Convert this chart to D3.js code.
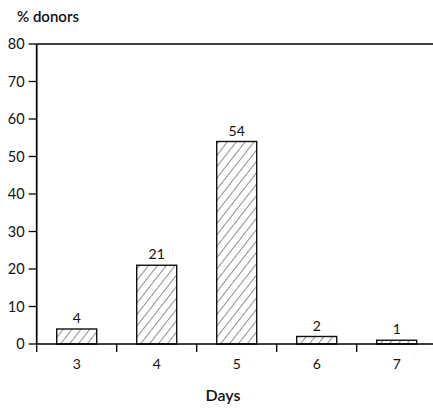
<!DOCTYPE html>
<html><head><meta charset="utf-8">
<script src="https://cdn.jsdelivr.net/npm/d3@7/dist/d3.min.js"></script>
<style>body{margin:0;background:#fff}svg{display:block}text{font-family:Lato,"Open Sans",sans-serif;fill:#111}</style>
</head><body>
<script>
const categories = ["3","4","5","6","7"];
const values = [4, 21, 54, 2, 1];
const yTicks = [0,10,20,30,40,50,60,70,80];

const W = 433, H = 409;
const svg = d3.select("body").append("svg").attr("width", W).attr("height", H);
const x0 = 36.7, bandW = 80;
const x = d3.scaleBand().domain(categories).range([x0, x0 + bandW*categories.length]).paddingInner(0.5).paddingOuter(0.25);
const y = d3.scaleLinear().domain([0, 80]).range([344, 44]);

const defs = svg.append("defs");
const pat = defs.append("pattern").attr("id","hatch").attr("patternUnits","userSpaceOnUse")
  .attr("width",7).attr("height",7).attr("patternTransform","rotate(38)");
pat.append("rect").attr("width",7).attr("height",7).attr("fill","#fff");
pat.append("line").attr("x1",0).attr("y1",0).attr("x2",0).attr("y2",7).attr("stroke","#222").attr("stroke-width",1);

// bars
svg.selectAll(".bar").data(values).join("rect")
  .attr("x",(d,i)=>x(categories[i])).attr("width",x.bandwidth())
  .attr("y",d=>y(d)).attr("height",d=>y(0)-y(d))
  .attr("fill","url(#hatch)").attr("stroke","#111").attr("stroke-width",1.4);

svg.selectAll(".vl").data(values).join("text")
  .attr("x",(d,i)=>x(categories[i])+x.bandwidth()/2).attr("y",d=>y(d)-6)
  .attr("text-anchor","middle").attr("font-size",14).text(d=>d);

// y axis
svg.append("line").attr("x1",x0).attr("x2",x0).attr("y1",y(80)).attr("y2",y(0)).attr("stroke","#000").attr("stroke-width",1.7);
svg.append("line").attr("x1",x0).attr("x2",W).attr("y1",y(80)).attr("y2",y(80)).attr("stroke","#000").attr("stroke-width",1.7);
const yt = svg.selectAll(".yt").data(yTicks).join("g").attr("transform",d=>`translate(0,${y(d)})`);
yt.append("line").attr("x1",x0-8).attr("x2",x0).attr("stroke","#000").attr("stroke-width",1.3);
yt.append("text").attr("x",x0-12).attr("dy","0.35em").attr("text-anchor","end").attr("font-size",14.5).text(d=>d);

// x axis
svg.append("line").attr("x1",x0).attr("x2",W).attr("y1",y(0)).attr("y2",y(0)).attr("stroke","#000").attr("stroke-width",1.7);
const xb = categories.map((c,i)=>x0 + i*bandW);
svg.selectAll(".xt").data(xb).join("line").attr("x1",d=>d).attr("x2",d=>d).attr("y1",y(0)).attr("y2",y(0)+8).attr("stroke","#000").attr("stroke-width",1.3);
svg.selectAll(".xl").data(categories).join("text")
  .attr("x",d=>x(d)+x.bandwidth()/2).attr("y",369).attr("text-anchor","middle").attr("font-size",14).text(d=>d);

svg.append("text").attr("x",223).attr("y",401).attr("text-anchor","middle").attr("font-size",16).attr("font-weight",600).text("Days");
svg.append("text").attr("x",17).attr("y",22).attr("font-size",15).attr("font-weight",600).text("% donors");
</script>
</body></html>
